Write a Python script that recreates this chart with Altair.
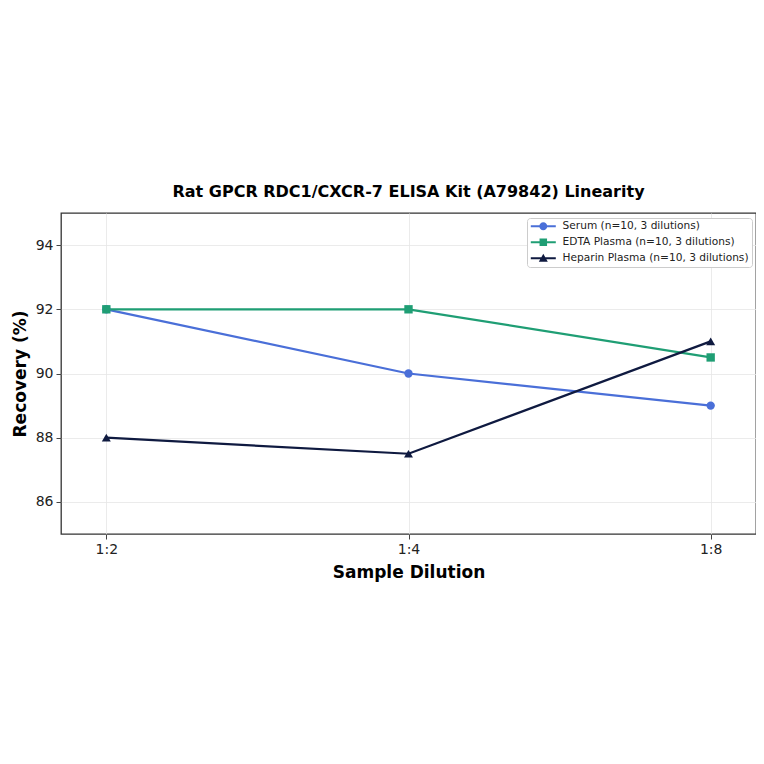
import altair as alt
import pandas as pd

dilutions = ['1:2', '1:4', '1:8']
serum = [92.0, 90.0, 89.0]
edta = [92.0, 92.0, 90.5]
heparin = [88.0, 87.5, 91.0]

series_names = ['Serum (n=10, 3 dilutions)', 'EDTA Plasma (n=10, 3 dilutions)',
                'Heparin Plasma (n=10, 3 dilutions)']
series_colors = ['#4A6FD8', '#1F9E74', '#0F1A40']
series_shapes = ['circle', 'square', 'triangle-up']

rows = []
for name, vals in zip(series_names, [serum, edta, heparin]):
    for d, v in zip(dilutions, vals):
        rows.append({'dilution': d, 'recovery': v, 'series': name})
df = pd.DataFrame(rows)

# legend glyphs: a short line with the marker on top (unit = 5px)
_bar = 'M-2.5,-0.2 L2.5,-0.2 L2.5,0.2 L-2.5,0.2 Z '
legend_paths = [
    _bar + 'M0.8,0 A0.8,0.8 0 1,1 -0.8,0 A0.8,0.8 0 1,1 0.8,0 Z',
    _bar + 'M-0.75,-0.75 L0.75,-0.75 L0.75,0.75 L-0.75,0.75 Z',
    _bar + 'M0,-0.9 L0.9,0.7 L-0.9,0.7 Z',
]

x_enc = alt.X('dilution:N', sort=dilutions, title='Sample Dilution',
              scale=alt.Scale(type='point', padding=0.15),
              axis=alt.Axis(labelAngle=0, grid=True))
y_enc = alt.Y('recovery:Q', title='Recovery (%)',
              scale=alt.Scale(domain=[85, 95], nice=False, zero=False),
              axis=alt.Axis(values=[86, 88, 90, 92, 94], grid=True))
color_enc = alt.Color('series:N', scale=alt.Scale(domain=series_names, range=series_colors),
                      sort=series_names, title=None)

base = alt.Chart(df)

lines = base.mark_line(strokeWidth=2.2).encode(
    x=x_enc, y=y_enc, color=color_enc,
    order=alt.Order('dilution:N'),
)

point_layers = []
for name, shape, size in zip(series_names, series_shapes, [70, 70, 80]):
    point_layers.append(
        base.transform_filter(alt.datum.series == name)
        .mark_point(filled=True, opacity=1, shape=shape, size=size)
        .encode(x=x_enc, y=y_enc, color=color_enc)
    )

legend_layer = base.mark_point(filled=True, opacity=0).encode(
    x=x_enc, y=y_enc, color=color_enc,
    shape=alt.Shape('series:N', scale=alt.Scale(domain=series_names, range=legend_paths),
                    sort=series_names, title=None),
)

chart = alt.layer(lines, *point_layers, legend_layer).properties(
    width=695,
    height=321,
    title=alt.TitleParams('Rat GPCR RDC1/CXCR-7 ELISA Kit (A79842) Linearity',
                          font='DejaVu Sans', fontSize=16, fontWeight='bold',
                          color='black', offset=13),
    autosize=alt.AutoSizeParams(type='none'),
    padding={'left': 53, 'top': 205, 'right': 0, 'bottom': 200},
).configure(
    font='DejaVu Sans',
).configure_view(
    stroke='#333333', strokeWidth=1.3,
).configure_axis(
    domain=False,
    labelFont='DejaVu Sans', labelFontSize=14, labelColor='#222222',
    titleFont='DejaVu Sans', titleFontSize=17, titleFontWeight='bold', titleColor='black',
    tickColor='#444444', tickSize=5, labelPadding=3,
    gridColor='#e6e6e6', gridWidth=0.8,
).configure_axisY(
    titlePadding=6,
).configure_axisX(
    titlePadding=8,
).configure_legend(
    orient='none', legendX=466, legendY=5,
    labelFont='DejaVu Sans', labelFontSize=10.6, labelColor='#222222', labelLimit=400,
    symbolSize=100, symbolStrokeWidth=0, symbolOpacity=1, symbolOffset=8,
    labelOffset=14, rowPadding=5,
    padding=3, strokeColor='#cccccc', fillColor='white', cornerRadius=3,
)

chart.save("out.html", embed_options={"renderer": "svg", "actions": False})
